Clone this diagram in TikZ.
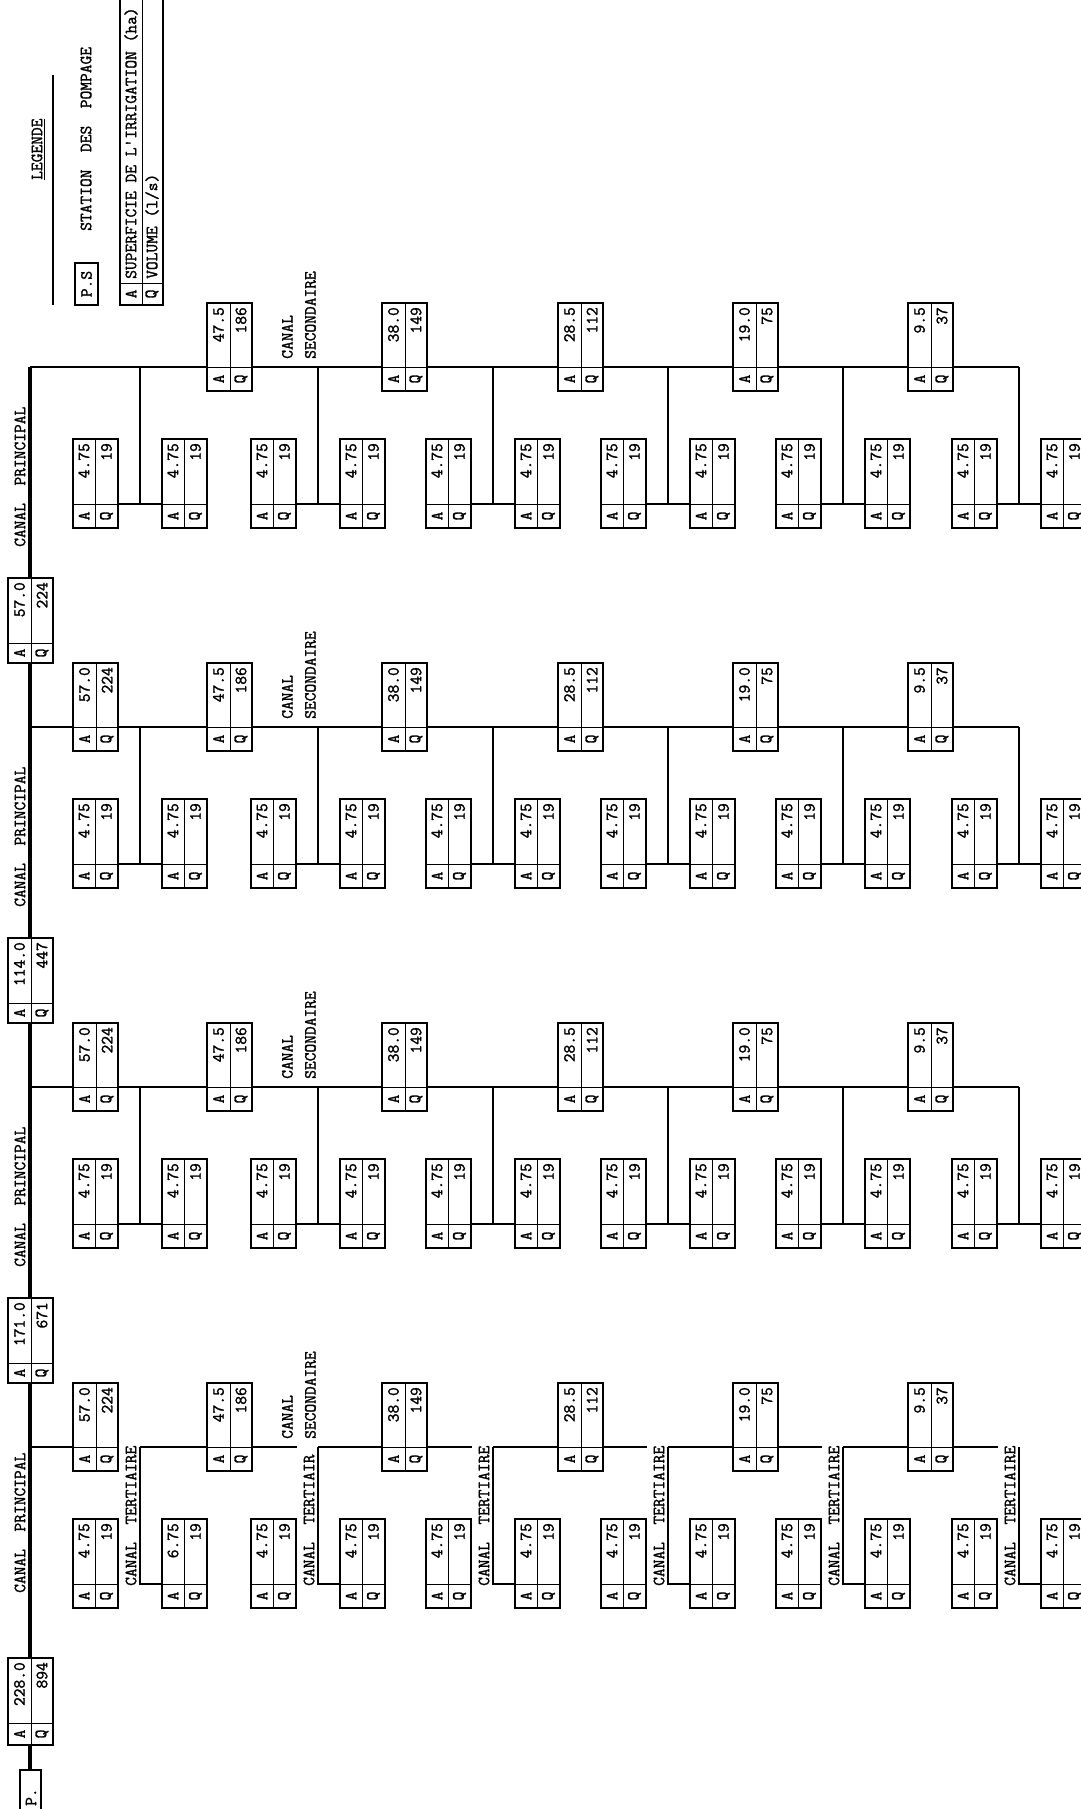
\documentclass[tikz,border=0pt]{standalone}
\usepackage{fontspec}
\newfontfamily\tyfont{Latin Modern Mono}[AutoFakeBold=1.6]
\usetikzlibrary{calc}
\tikzset{
  mainline/.style={line width=3.8pt},
  secline/.style={line width=2.4pt},
  terline/.style={line width=1.8pt},
  boxframe/.style={draw,line width=1.6pt,fill=white,inner sep=0pt,outer sep=0pt,anchor=north west},
  divline/.style={line width=0.9pt},
  lbl/.style={font=\tyfont\bfseries\fontsize{17}{23}\selectfont,inner sep=0pt,rotate=90},
}
\newcommand\databox[8]{%
  \pgfmathsetmacro\dbxl{#2}\pgfmathsetmacro\dbyt{#3}%
  \pgfmathsetmacro\dbxr{\dbxl+45}\pgfmathsetmacro\dbyb{\dbyt+#4}%
  \pgfmathsetmacro\dbyd{\dbyt+#5}\pgfmathsetmacro\dbxs{\dbxl+#6}%
  \pgfmathsetmacro\dbcl{(\dbxl+\dbxs)/2}\pgfmathsetmacro\dbcr{(\dbxs+\dbxr)/2}%
  \pgfmathsetmacro\dbym{(\dbyd+\dbyb)/2}\pgfmathsetmacro\dbyv{\dbyt+4}%
  \node[boxframe,minimum width=45pt,minimum height=#4pt] (#1) at (\dbxl,\dbyt) {};
  \draw[divline] (\dbxs,\dbyt) -- (\dbxs,\dbyb);
  \draw[divline] (\dbxl,\dbyd) -- (\dbxr,\dbyd);
  \node[lbl,anchor=east] (#1v) at (\dbcl,\dbyv) {#7};
  \node[lbl,anchor=east] (#1q) at (\dbcr,\dbyv) {#8};
  \node[lbl] (#1a) at (\dbcl,\dbym) {A};
  \node[lbl] (#1b) at (\dbcr,\dbym) {Q};
}
\begin{document}
\begin{tikzpicture}[x=1pt,y=-1pt]
\useasboundingbox (0,0) rectangle (1081,1809);
\fill[white] (0,0) rectangle (1081,1809);

% legend
\node[lbl,anchor=west] (legtitle) at (38,180) {\underline{LEGENDE}};
\coordinate (legA) at (53,75);
\coordinate (legB) at (53,305);
\draw[line width=1.6pt] (legA) -- (legB);
\node[boxframe,minimum width=23pt,minimum height=42pt] (pslbox) at (75,263) {};
\node[lbl] (psltxt) at (pslbox) {P.S};
\node[lbl,anchor=west] (station) at (86,231) {STATION~~DES~~POMPAGE};
\node[boxframe,minimum width=43pt,minimum height=325pt] (legtab) at (120,-20) {};
\draw[divline] (142,-20) -- (142,305);
\draw[divline] (120,283) -- (163,283);
\node[lbl] (legA1) at (131,294) {A};
\node[lbl] (legQ1) at (152,294) {Q};
\node[lbl,anchor=west] (legsup) at (131,279) {SUPERFICIE DE L'IRRIGATION (ha)};
\node[lbl,anchor=west] (legvol) at (152,279) {VOLUME (l/s)};

% main canal
\coordinate (pstop) at (30,1770);
\coordinate (mainend) at (30,367);
\draw[mainline] (pstop) -- (mainend);

% groups
\foreach \g/\L/\cpy in {1/1447/1593,2/1087/1267,3/727/907,4/367/547}{
  \pgfmathsetmacro\Lt{\L+137}
  \coordinate (j\g) at (30,\L);
  \ifnum\g=1
    \coordinate (g1a) at (119,\L);
    \draw[secline] (j1) -- (g1a);
    \foreach \vp/\v [count=\k] in {0/140,140/318,318/493,493/668,668/843,843/1019}{
      \ifnum\k>1 \draw[secline] (\vp,\L) -- ({\v-21},\L); \fi
      \coordinate (v\g-\k) at (\v,\L);
      \coordinate (b\g-\k) at (\v,\Lt);
      \draw[terline] (v\g-\k) -- (b\g-\k) -- ({\v+22},\Lt);
    }
    \foreach \v/\txt in {140/CANAL~~TERTIAIRE,318/CANAL~~TERTIAIR,493/CANAL~~TERTIAIRE,668/CANAL~~TERTIAIRE,843/CANAL~~TERTIAIRE,1019/CANAL~~TERTIAIRE}{
      \node[lbl,anchor=west] (ct\v) at ({\v-9},{\Lt+2}) {\txt};
    }
  \else
    \coordinate (e\g) at (1019,\L);
    \draw[secline] (j\g) -- (e\g);
    \foreach \v [count=\k] in {140,318,493,668,843,1019}{
      \coordinate (v\g-\k) at (\v,\L);
      \coordinate (b\g-\k) at (\v,\Lt);
      \draw[terline] (v\g-\k) -- (b\g-\k);
      \draw[terline] ({\v-22},\Lt) -- ({\v+22},\Lt);
    }
  \fi
  % secondary boxes
  \foreach \xl/\va/\vq [count=\i] in {73/57.0/224,207/47.5/186,382/38.0/149,558/28.5/112,733/19.0/75,908/9.5/37}{
    \pgfmathtruncatemacro\skipit{(\g==4)&&(\i==1)}
    \ifnum\skipit=0
      \databox{s\g-\i}{\xl}{\L-64}{88}{64}{23}{\va}{\vq}
    \fi
  }
  % tertiary boxes
  \foreach \v [count=\k] in {140,318,493,668,843,1019}{
    \databox{tl\g-\k}{\v-67}{\Lt-65}{89}{65}{22}{4.75}{19}
    \pgfmathtruncatemacro\sixit{(\g==1)&&(\k==1)}
    \ifnum\sixit=1
      \databox{tr\g-\k}{\v+22}{\Lt-65}{89}{65}{22}{6.75}{19}
    \else
      \databox{tr\g-\k}{\v+22}{\Lt-65}{89}{65}{22}{4.75}{19}
    \fi
  }
  % labels
  \node[lbl,anchor=west] (cp\g) at (20,\cpy) {CANAL~~PRINCIPAL};
  \node[lbl,align=left,anchor=south west] (cs\g) at (316,{\L-8}) {CANAL\\SECONDAIRE};
}

% main boxes
\databox{m0}{8}{1658}{87}{65}{23}{228.0}{894}
\databox{m1}{8}{1298}{85}{65}{23}{171.0}{671}
\databox{m2}{8}{938}{85}{65}{23}{114.0}{447}
\databox{m3}{8}{578}{85}{65}{23}{57.0}{224}

% pumping station
\node[boxframe,minimum width=21pt,minimum height=50pt] (ps) at (20,1770) {};
\node[lbl,anchor=west] (pstxt) at (31,1806) {P.};
\end{tikzpicture}
\end{document}
